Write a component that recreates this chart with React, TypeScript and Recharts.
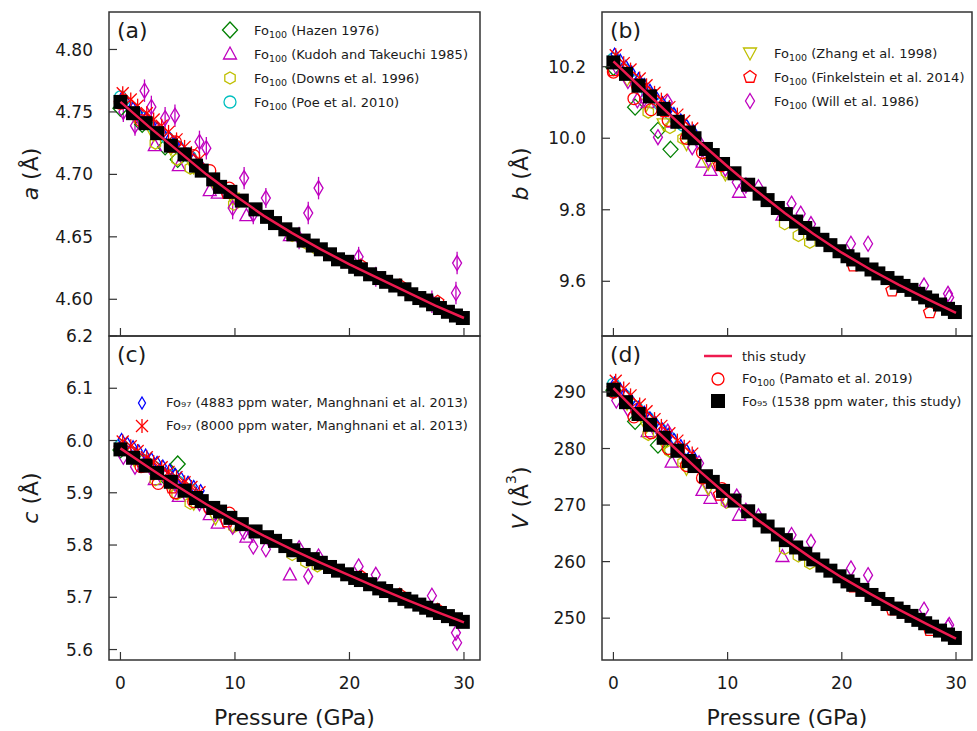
import React from 'react'
import { ComposedChart, Scatter, XAxis, YAxis, ReferenceArea, ErrorBar, Legend } from 'recharts'

const FONT = '"DejaVu Sans", Verdana, sans-serif'
const INK = '#1a1a1a'
const FRAME = '#333'

const GREEN = '#008000'
const MAGENTA = '#bf00bf'
const YELLOW = '#bfbf00'
const CYAN = '#00bfbf'
const RED = '#ff0000'
const BLUE = '#0000ff'
const FIT = '#ee1a4f'

const X_DOMAIN = [-1, 31.4]
const X_TICKS = [0, 10, 20, 30]

// Fo100, Hazen 1976
const hazenP = [0, 1.9, 3.9, 5.0]
const hazenA = [4.753, 4.740, 4.722, 4.712]
const hazenB = [10.198, 10.087, 10.022, 9.969]
const hazenC = [5.982, 5.958, 5.930, 5.955]
const hazenV = [290.3, 284.8, 280.6, 279.7]

// Fo100, Kudoh and Takeuchi 1985
const kudohP = [3.0, 5.1, 7.8, 8.5, 11.0, 14.8]
const kudohA = [4.723, 4.707, 4.687, 4.685, 4.667, 4.651]
const kudohB = [10.100, 10.045, 9.933, 9.910, 9.849, 9.785]
const kudohC = [5.925, 5.893, 5.858, 5.842, 5.815, 5.743]
const kudohV = [283.0, 277.6, 272.6, 271.2, 268.2, 260.9]

// Fo100, Downs et al. 1996
const downsP = [3.05, 4.95, 6.1, 9.9, 15.0, 16.2, 17.2]
const downsA = [4.725, 4.712, 4.705, 4.676, 4.651, 4.645, 4.640]
const downsB = [10.073, 10.030, 9.999, 9.905, 9.761, 9.728, 9.709]
const downsC = [5.925, 5.898, 5.880, 5.835, 5.782, 5.768, 5.760]
const downsV = [282.5, 279.5, 277.5, 270.5, 262.3, 261.0, 259.7]

// Fo100, Poe et al. 2010
const poeP = [0, 1.0, 2.0, 3.0, 4.1, 5.0, 6.1]
const poeA = [4.762, 4.753, 4.745, 4.737, 4.729, 4.722, 4.714]
const poeB = [10.222, 10.191, 10.159, 10.127, 10.094, 10.068, 10.037]
const poeC = [5.990, 5.976, 5.962, 5.948, 5.934, 5.921, 5.906]
const poeV = [291.4, 289.3, 287.3, 285.4, 283.4, 281.8, 279.8]

// Fo100, Zhang et al. 1998
const zhangP = [1.2, 2.9, 4.4, 6.4, 8.3, 9.8]
const zhangA = [4.747, 4.732, 4.721, 4.706, 4.691, 4.681]
const zhangB = [10.165, 10.095, 10.040, 9.985, 9.930, 9.900]
const zhangC = [5.964, 5.937, 5.914, 5.880, 5.852, 5.838]
const zhangV = [288.0, 284.0, 281.0, 276.5, 273.0, 271.0]

// Fo100, Finkelstein et al. 2014
const finkP = [0, 2.0, 4.5, 9.3, 21.0, 24.4, 27.7]
const finkA = [4.757, 4.742, 4.722, 4.685, 4.627, 4.611, 4.598]
const finkB = [10.190, 10.150, 10.075, 9.924, 9.644, 9.574, 9.513]
const finkC = [5.985, 5.950, 5.910, 5.845, 5.740, 5.705, 5.676]
const finkV = [290.6, 286.8, 281.8, 271.8, 255.6, 251.5, 247.9]

// Fo100, Will et al. 1986
const willP = [0.25, 1.27, 2.1, 2.7, 3.9, 4.76, 6.9, 7.5, 9.8, 10.8, 11.6, 12.7, 15.6, 16.4, 17.3, 20.8, 22.3, 27.2, 29.3, 29.4]
const willA = [4.750, 4.739, 4.767, 4.754, 4.745, 4.747, 4.726, 4.721, 4.673, 4.697, 4.668, 4.681, 4.649, 4.669, 4.689, 4.634, 4.618, 4.598, 4.605, 4.629]
const willAErr = [0.008, 0.008, 0.009, 0.009, 0.009, 0.009, 0.009, 0.009, 0.009, 0.009, 0.008, 0.008, 0.009, 0.009, 0.009, 0.008, 0.008, 0.009, 0.009, 0.009]
const willB = [10.200, 10.160, 10.106, 10.110, 10.003, 10.101, 9.975, 9.990, 9.915, 9.877, 9.868, 9.863, 9.817, 9.789, 9.760, 9.705, 9.705, 9.588, 9.565, 9.555]
const willC = [5.969, 5.950, 5.955, 5.945, 5.930, 5.918, 5.880, 5.875, 5.835, 5.825, 5.797, 5.792, 5.794, 5.740, 5.778, 5.759, 5.743, 5.703, 5.632, 5.613]
const willV = [288.5, 287.0, 286.5, 286.0, 283.5, 283.0, 278.0, 277.4, 270.9, 271.5, 269.0, 268.0, 264.7, 262.0, 263.5, 258.8, 257.6, 251.5, 248.5, 248.8]

// Fo97, 4883 ppm water, Manghnani et al. 2013
const m4883P = [0.1, 0.6, 1.1, 1.6, 2.2, 2.7, 3.2, 3.7, 4.3, 4.8, 5.3, 5.9, 6.4, 7.0]
const m4883A = [4.761, 4.757, 4.753, 4.749, 4.745, 4.741, 4.737, 4.733, 4.729, 4.725, 4.721, 4.716, 4.712, 4.708]
const m4883B = [10.235, 10.218, 10.201, 10.185, 10.166, 10.150, 10.134, 10.118, 10.099, 10.084, 10.069, 10.051, 10.036, 10.020]
const m4883C = [6.002, 5.995, 5.988, 5.980, 5.972, 5.965, 5.958, 5.951, 5.943, 5.935, 5.928, 5.920, 5.912, 5.904]
const m4883V = [291.6, 290.5, 289.5, 288.5, 287.3, 286.4, 285.4, 284.5, 283.4, 282.5, 281.6, 280.5, 279.7, 278.6]

// Fo97, 8000 ppm water, Manghnani et al. 2013
const m8000P = [0.2, 0.9, 1.5, 2.3, 2.9, 3.6, 4.2, 4.9, 5.6, 6.2, 6.9]
const m8000A = [4.765, 4.760, 4.755, 4.749, 4.744, 4.739, 4.734, 4.728, 4.722, 4.717, 4.712]
const m8000B = [10.232, 10.210, 10.192, 10.167, 10.148, 10.127, 10.108, 10.087, 10.066, 10.048, 10.027]
const m8000C = [5.998, 5.989, 5.980, 5.968, 5.959, 5.949, 5.940, 5.930, 5.920, 5.911, 5.901]
const m8000V = [292.0, 290.6, 289.4, 287.8, 286.6, 285.2, 284.0, 282.7, 281.4, 280.3, 279.1]

// Fo100, Pamato et al. 2019
const pamatoP = [0, 1.8, 3.3, 4.8, 6.4, 7.8, 9.5]
const pamatoA = [4.757, 4.743, 4.734, 4.726, 4.715, 4.703, 4.689]
const pamatoB = [10.185, 10.111, 10.080, 10.050, 10.000, 9.960, 9.924]
const pamatoC = [5.983, 5.950, 5.918, 5.900, 5.883, 5.870, 5.861]
const pamatoV = [290.0, 285.6, 282.8, 280.0, 277.0, 274.8, 272.9]

// Fo95, 1538 ppm water, this study
const studyP = [0, 1.1, 2.2, 3.2, 4.4, 5.6, 6.6, 7.1, 8.1, 8.7, 9.6, 10.6, 11.8, 12.8, 13.5, 14.4, 15.1, 16.0, 16.8, 17.5, 18.3, 19.0, 19.8, 20.5, 21.0, 21.8, 22.6, 23.2, 24.0, 24.8, 25.4, 26.1, 26.7, 27.3, 27.9, 28.6, 29.3, 29.9]
const studyA = [4.758, 4.749, 4.741, 4.733, 4.723, 4.716, 4.707, 4.703, 4.696, 4.690, 4.686, 4.679, 4.672, 4.666, 4.661, 4.656, 4.652, 4.647, 4.643, 4.640, 4.636, 4.632, 4.630, 4.626, 4.624, 4.620, 4.617, 4.614, 4.611, 4.608, 4.604, 4.601, 4.599, 4.596, 4.593, 4.590, 4.587, 4.585]
const studyB = [10.212, 10.180, 10.147, 10.117, 10.082, 10.046, 10.016, 10.000, 9.970, 9.953, 9.928, 9.902, 9.870, 9.845, 9.827, 9.805, 9.788, 9.767, 9.749, 9.733, 9.716, 9.701, 9.684, 9.670, 9.661, 9.647, 9.633, 9.622, 9.609, 9.596, 9.587, 9.576, 9.565, 9.555, 9.546, 9.535, 9.523, 9.514]
const studyC = [5.983, 5.967, 5.952, 5.938, 5.921, 5.904, 5.890, 5.884, 5.871, 5.864, 5.852, 5.840, 5.826, 5.815, 5.808, 5.798, 5.790, 5.781, 5.773, 5.766, 5.758, 5.751, 5.744, 5.737, 5.733, 5.725, 5.717, 5.712, 5.704, 5.697, 5.692, 5.686, 5.680, 5.675, 5.670, 5.664, 5.658, 5.653]
const studyV = [290.4, 288.2, 286.1, 284.2, 281.9, 279.6, 277.8, 276.9, 275.1, 274.1, 272.5, 270.8, 268.9, 267.3, 266.2, 264.8, 263.8, 262.5, 261.4, 260.4, 259.3, 258.4, 257.4, 256.5, 255.9, 255.0, 254.1, 253.4, 252.5, 251.7, 251.1, 250.4, 249.7, 249.1, 248.5, 247.8, 247.1, 246.5]

// fitted EOS curve, this study
const fitP = [0, 2.5, 5, 7.5, 10, 12.5, 15, 17.5, 20, 22.5, 25, 27.5, 30]
const fitA = [4.758, 4.738, 4.719, 4.700, 4.683, 4.667, 4.653, 4.640, 4.628, 4.617, 4.606, 4.595, 4.585]
const fitB = [10.215, 10.139, 10.064, 9.991, 9.921, 9.854, 9.791, 9.733, 9.680, 9.633, 9.590, 9.550, 9.512]
const fitC = [5.985, 5.948, 5.912, 5.878, 5.847, 5.818, 5.791, 5.766, 5.742, 5.718, 5.695, 5.673, 5.652]
const fitV = [290.7, 285.6, 280.8, 276.1, 271.7, 267.6, 263.9, 260.4, 257.2, 254.3, 251.5, 248.9, 246.4]

type Kind = 'diamond' | 'thinDiamond' | 'smallDiamond' | 'triUp' | 'triDown' | 'hexagon' | 'circle' | 'pentagon' | 'asterisk' | 'square' | 'line'

const SERIES: { key: string; kind: Kind; color: string; p: number[] }[] = [
  { key: 'hazen', kind: 'diamond', color: GREEN, p: hazenP },
  { key: 'kudoh', kind: 'triUp', color: MAGENTA, p: kudohP },
  { key: 'downs', kind: 'hexagon', color: YELLOW, p: downsP },
  { key: 'poe', kind: 'circle', color: CYAN, p: poeP },
  { key: 'zhang', kind: 'triDown', color: YELLOW, p: zhangP },
  { key: 'fink', kind: 'pentagon', color: RED, p: finkP },
  { key: 'will', kind: 'thinDiamond', color: MAGENTA, p: willP },
  { key: 'm4883', kind: 'smallDiamond', color: BLUE, p: m4883P },
  { key: 'm8000', kind: 'asterisk', color: RED, p: m8000P },
  { key: 'pamato', kind: 'circle', color: RED, p: pamatoP },
  { key: 'study', kind: 'square', color: '#000', p: studyP },
]

const zip = (ps: number[], vs: number[], errs?: number[]) =>
  ps.map((p, i) => ({ p, v: vs[i], e: errs ? errs[i] : 0 }))

const regPoly = (cx: number, cy: number, r: number, n: number) =>
  Array.from({ length: n }, (_, i) => {
    const t = -Math.PI / 2 + (i * 2 * Math.PI) / n
    return `${cx + r * Math.cos(t)},${cy + r * Math.sin(t)}`
  }).join(' ')

function drawMarker(kind: Kind, color: string, cx: number, cy: number) {
  const sw = 1.3
  switch (kind) {
    case 'square':
      return <rect x={cx - 7} y={cy - 7} width={14} height={14} fill={color} />
    case 'diamond':
      return <polygon points={`${cx},${cy - 8} ${cx + 7.5},${cy} ${cx},${cy + 8} ${cx - 7.5},${cy}`} fill="none" stroke={color} strokeWidth={sw} />
    case 'thinDiamond':
      return <polygon points={`${cx},${cy - 7.5} ${cx + 4.5},${cy} ${cx},${cy + 7.5} ${cx - 4.5},${cy}`} fill="none" stroke={color} strokeWidth={sw} />
    case 'smallDiamond':
      return <polygon points={`${cx},${cy - 6} ${cx + 3.5},${cy} ${cx},${cy + 6} ${cx - 3.5},${cy}`} fill="none" stroke={color} strokeWidth={sw} />
    case 'triUp':
      return <polygon points={`${cx},${cy - 7} ${cx + 6.5},${cy + 5} ${cx - 6.5},${cy + 5}`} fill="none" stroke={color} strokeWidth={sw} />
    case 'triDown':
      return <polygon points={`${cx},${cy + 7} ${cx + 6.5},${cy - 5} ${cx - 6.5},${cy - 5}`} fill="none" stroke={color} strokeWidth={sw} />
    case 'hexagon':
      return <polygon points={regPoly(cx, cy, 6, 6)} fill="none" stroke={color} strokeWidth={sw} />
    case 'pentagon':
      return <polygon points={regPoly(cx, cy, 6.5, 5)} fill="none" stroke={color} strokeWidth={sw} />
    case 'circle':
      return <circle cx={cx} cy={cy} r={6} fill="none" stroke={color} strokeWidth={sw} />
    case 'asterisk':
      return (
        <g stroke={color} strokeWidth={sw}>
          <line x1={cx} y1={cy - 7} x2={cx} y2={cy + 7} />
          <line x1={cx - 6} y1={cy - 6} x2={cx + 6} y2={cy + 6} />
          <line x1={cx - 6} y1={cy + 6} x2={cx + 6} y2={cy - 6} />
        </g>
      )
    case 'line':
      return <line x1={cx - 14} y1={cy} x2={cx + 14} y2={cy} stroke={color} strokeWidth={2.5} />
  }
  return null
}

const Fo = ({ sub, rest }: { sub: string; rest: string }) => (
  <span>
    Fo<span style={{ fontSize: 9.5, position: 'relative', top: 3 }}>{sub}</span> {rest}
  </span>
)

interface LegendRow { kind: Kind; color: string; label: React.ReactNode }

function PanelLegend({ rows, rowH }: { rows: LegendRow[]; rowH: number }) {
  return (
    <div style={{ fontFamily: FONT, fontSize: 13, color: INK, whiteSpace: 'nowrap' }}>
      {rows.map((r, i) => (
        <div key={i} style={{ display: 'flex', alignItems: 'center', height: rowH }}>
          <svg width={28} height={20} style={{ flex: 'none' }}>{drawMarker(r.kind, r.color, 14, 10)}</svg>
          <span style={{ marginLeft: 10 }}>{r.label}</span>
        </div>
      ))}
    </div>
  )
}

const legendA: LegendRow[] = [
  { kind: 'diamond', color: GREEN, label: <Fo sub="100" rest="(Hazen 1976)" /> },
  { kind: 'triUp', color: MAGENTA, label: <Fo sub="100" rest="(Kudoh and Takeuchi 1985)" /> },
  { kind: 'hexagon', color: YELLOW, label: <Fo sub="100" rest="(Downs et al. 1996)" /> },
  { kind: 'circle', color: CYAN, label: <Fo sub="100" rest="(Poe et al. 2010)" /> },
]
const legendB: LegendRow[] = [
  { kind: 'triDown', color: YELLOW, label: <Fo sub="100" rest="(Zhang et al. 1998)" /> },
  { kind: 'pentagon', color: RED, label: <Fo sub="100" rest="(Finkelstein et al. 2014)" /> },
  { kind: 'thinDiamond', color: MAGENTA, label: <Fo sub="100" rest="(Will et al. 1986)" /> },
]
const legendC: LegendRow[] = [
  { kind: 'smallDiamond', color: BLUE, label: 'Fo₉₇ (4883 ppm water, Manghnani et al. 2013)' },
  { kind: 'asterisk', color: RED, label: 'Fo₉₇ (8000 ppm water, Manghnani et al. 2013)' },
]
const legendD: LegendRow[] = [
  { kind: 'line', color: FIT, label: 'this study' },
  { kind: 'circle', color: RED, label: <Fo sub="100" rest="(Pamato et al. 2019)" /> },
  { kind: 'square', color: '#000', label: 'Fo₉₅ (1538 ppm water, this study)' },
]

function renderXTick(t: any, showLabel: boolean) {
  const axisY = t.y - 17
  return (
    <g>
      <line x1={t.x} y1={axisY} x2={t.x} y2={axisY - 8} stroke={FRAME} strokeWidth={1.2} />
      {showLabel && (
        <text x={t.x} y={t.y} dy="0.73em" textAnchor="middle" fontFamily={FONT} fontSize={17} fill={INK}>
          {t.payload.value}
        </text>
      )}
    </g>
  )
}

function renderYTick(t: any, fmt: (v: number) => string) {
  const axisX = t.x + 16
  return (
    <g>
      <line x1={axisX} y1={t.y} x2={axisX + 8} y2={t.y} stroke={FRAME} strokeWidth={1.2} />
      <text x={t.x} y={t.y} dy="0.36em" textAnchor="end" fontFamily={FONT} fontSize={17} fill={INK}>
        {fmt(t.payload.value)}
      </text>
    </g>
  )
}

const xTitle = (props: any) => {
  const vb = props.viewBox || props
  return (
    <text x={vb.x + vb.width / 2} y={vb.y + 65} textAnchor="middle" fontFamily={FONT} fontSize={22} fill={INK}>
      Pressure (GPa)
    </text>
  )
}

const yTitle = (letter: string, cubed: boolean) => (props: any) => {
  const vb = props.viewBox || props
  const x = vb.x + 30
  const y = vb.y + vb.height / 2
  return (
    <text x={x} y={y} transform={`rotate(-90 ${x} ${y})`} textAnchor="middle" dominantBaseline="central" fontFamily={FONT} fontSize={22} fill={INK}>
      <tspan fontStyle="italic">{letter}</tspan>
      {cubed ? (
        <>
          <tspan> (Å</tspan>
          <tspan fontSize={14} dy={-9}>3</tspan>
          <tspan dy={9}>)</tspan>
        </>
      ) : (
        <tspan> (Å)</tspan>
      )}
    </text>
  )
}

interface PanelCfg {
  tag: string
  left: number
  top: number
  width: number
  height: number
  margin: { top: number; right: number; bottom: number; left: number }
  yWidth: number
  xHeight: number
  showX: boolean
  yDomain: number[]
  yTicks: number[]
  fmt: (v: number) => string
  letter: string
  cubed: boolean
  values: Record<string, number[]>
  fit: number[]
  err?: number[]
  legend: LegendRow[]
  legendPos: { left: number; top: number }
  rowH: number
  tagPos: { left: number; top: number }
}

const panels: PanelCfg[] = [
  {
    tag: '(a)', left: 0, top: 0, width: 490, height: 346,
    margin: { top: 12, right: 10, bottom: 0, left: 0 }, yWidth: 109, xHeight: 10, showX: false,
    yDomain: [4.5706, 4.83], yTicks: [4.6, 4.65, 4.7, 4.75, 4.8], fmt: (v) => v.toFixed(2),
    letter: 'a', cubed: false,
    values: { hazen: hazenA, kudoh: kudohA, downs: downsA, poe: poeA, zhang: zhangA, fink: finkA, will: willA, m4883: m4883A, m8000: m8000A, pamato: pamatoA, study: studyA },
    fit: fitA, err: willAErr,
    legend: legendA, legendPos: { left: 216, top: 18 }, rowH: 24, tagPos: { left: 117, top: 20 },
  },
  {
    tag: '(b)', left: 490, top: 0, width: 487, height: 346,
    margin: { top: 12, right: 5, bottom: 0, left: 0 }, yWidth: 112, xHeight: 10, showX: false,
    yDomain: [9.447, 10.353], yTicks: [9.6, 9.8, 10.0, 10.2], fmt: (v) => v.toFixed(1),
    letter: 'b', cubed: false,
    values: { hazen: hazenB, kudoh: kudohB, downs: downsB, poe: poeB, zhang: zhangB, fink: finkB, will: willB, m4883: m4883B, m8000: m8000B, pamato: pamatoB, study: studyB },
    fit: fitB,
    legend: legendB, legendPos: { left: 246, top: 41 }, rowH: 24, tagPos: { left: 120, top: 20 },
  },
  {
    tag: '(c)', left: 0, top: 316, width: 490, height: 415,
    margin: { top: 20, right: 10, bottom: 0, left: 0 }, yWidth: 109, xHeight: 71, showX: true,
    yDomain: [5.58, 6.2], yTicks: [5.6, 5.7, 5.8, 5.9, 6.0, 6.1, 6.2], fmt: (v) => v.toFixed(1),
    letter: 'c', cubed: false,
    values: { hazen: hazenC, kudoh: kudohC, downs: downsC, poe: poeC, zhang: zhangC, fink: finkC, will: willC, m4883: m4883C, m8000: m8000C, pamato: pamatoC, study: studyC },
    fit: fitC,
    legend: legendC, legendPos: { left: 128, top: 75 }, rowH: 23, tagPos: { left: 117, top: 28 },
  },
  {
    tag: '(d)', left: 490, top: 316, width: 487, height: 415,
    margin: { top: 20, right: 5, bottom: 0, left: 0 }, yWidth: 112, xHeight: 71, showX: true,
    yDomain: [242.6, 299.9], yTicks: [250, 260, 270, 280, 290], fmt: (v) => String(v),
    letter: 'V', cubed: true,
    values: { hazen: hazenV, kudoh: kudohV, downs: downsV, poe: poeV, zhang: zhangV, fink: finkV, will: willV, m4883: m4883V, m8000: m8000V, pamato: pamatoV, study: studyV },
    fit: fitV,
    legend: legendD, legendPos: { left: 214, top: 29 }, rowH: 22.5, tagPos: { left: 120, top: 28 },
  },
]

function Panel({ cfg }: { cfg: PanelCfg }) {
  return (
    <div style={{ position: 'absolute', left: cfg.left, top: cfg.top }}>
      <ComposedChart width={cfg.width} height={cfg.height} margin={cfg.margin}>
        <XAxis
          type="number" dataKey="p" domain={X_DOMAIN} allowDataOverflow ticks={X_TICKS} interval={0}
          height={cfg.xHeight} axisLine={false} tickLine={false} tickSize={0} tickMargin={17}
          tick={(t: any) => renderXTick(t, cfg.showX)}
          label={cfg.showX ? xTitle : undefined}
        />
        <YAxis
          type="number" domain={cfg.yDomain} allowDataOverflow ticks={cfg.yTicks} interval={0}
          width={cfg.yWidth} axisLine={false} tickLine={false} tickSize={0} tickMargin={16}
          tick={(t: any) => renderYTick(t, cfg.fmt)}
          label={yTitle(cfg.letter, cfg.cubed)}
        />
        <ReferenceArea
          x1={X_DOMAIN[0]} x2={X_DOMAIN[1]} y1={cfg.yDomain[0]} y2={cfg.yDomain[1]}
          fill="none" fillOpacity={0} stroke={FRAME} strokeWidth={1.5} ifOverflow="visible"
        />
        {SERIES.map((s) => (
          <Scatter
            key={s.key}
            name={s.key}
            data={zip(s.p, cfg.values[s.key], s.key === 'will' ? cfg.err : undefined)}
            dataKey="v"
            isAnimationActive={false}
            shape={(pp: any) => drawMarker(s.kind, s.color, pp.cx, pp.cy)}
          >
            {s.key === 'will' && cfg.err && (
              <ErrorBar dataKey="e" direction="y" width={0} stroke={MAGENTA} strokeWidth={1.3} />
            )}
          </Scatter>
        ))}
        {/* fitted curve drawn last so it sits on top of the squares */}
        <Scatter
          name="fit"
          data={zip(fitP, cfg.fit)}
          dataKey="v"
          line={{ stroke: FIT, strokeWidth: 2.5 }}
          lineType="joint"
          shape={() => <g />}
          isAnimationActive={false}
        />
        <Legend
          layout="vertical" align="center" verticalAlign="middle"
          wrapperStyle={{ left: cfg.legendPos.left, top: cfg.legendPos.top, width: 300 }}
          content={() => <PanelLegend rows={cfg.legend} rowH={cfg.rowH} />}
        />
      </ComposedChart>
      <div
        style={{
          position: 'absolute', left: cfg.tagPos.left, top: cfg.tagPos.top,
          fontFamily: FONT, fontSize: 22, lineHeight: '22px', color: INK,
        }}
      >
        {cfg.tag}
      </div>
    </div>
  )
}

export default function App() {
  return (
    <div style={{ position: 'absolute', left: 0, top: 0, width: 977, height: 731, background: '#fff', overflow: 'hidden' }}>
      {panels.map((cfg) => (
        <Panel key={cfg.tag} cfg={cfg} />
      ))}
    </div>
  )
}
